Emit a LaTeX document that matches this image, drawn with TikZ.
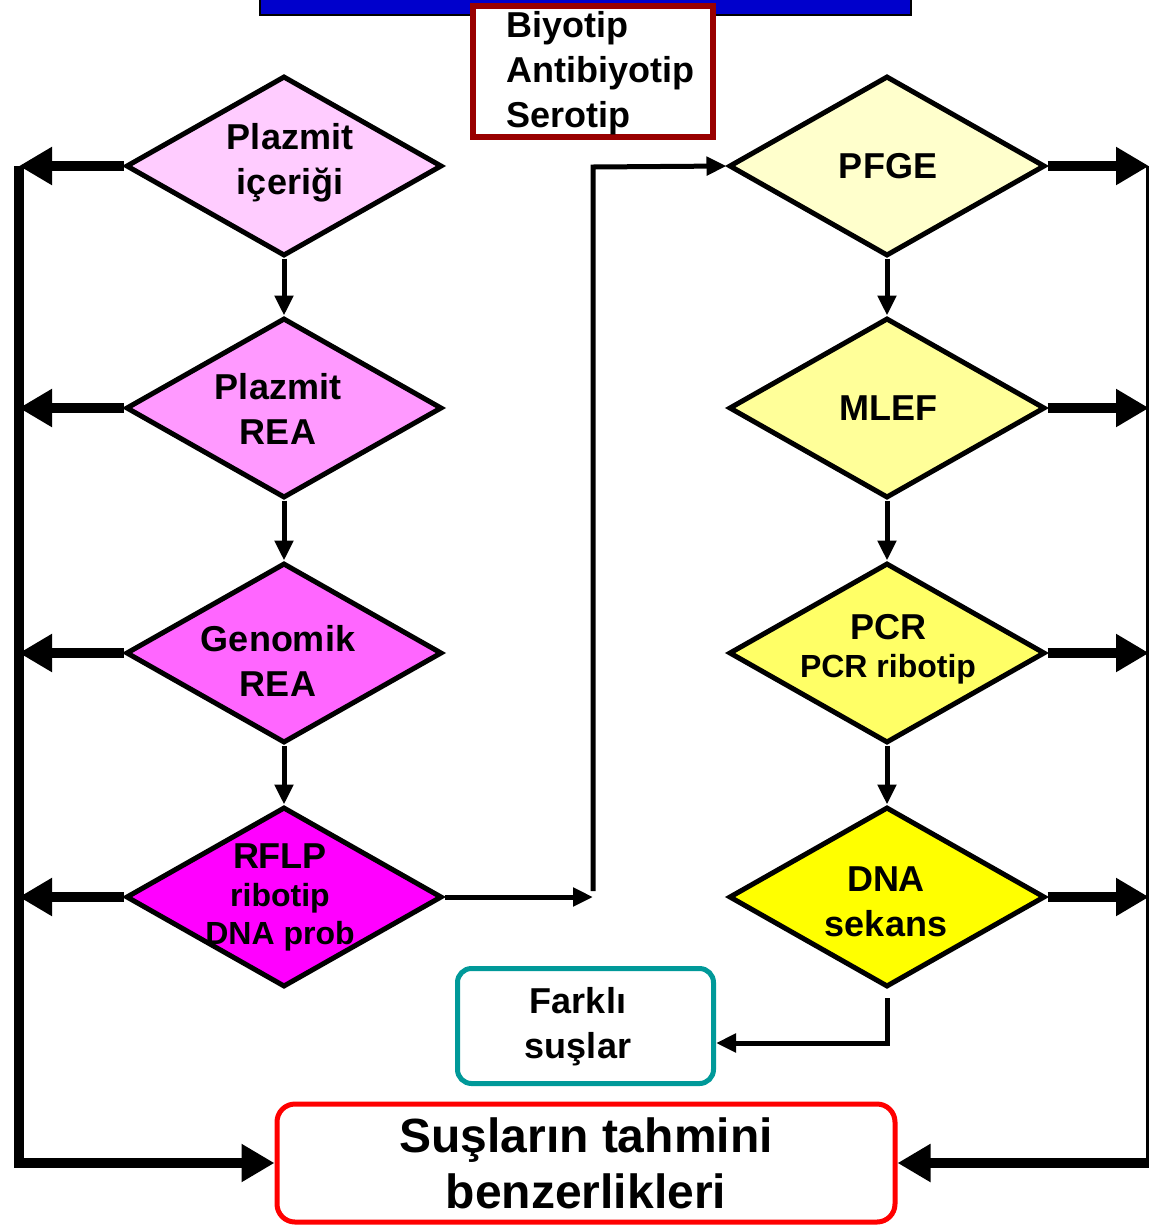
\documentclass[tikz,border=0pt]{standalone}
\usepackage{fontspec}
\setmainfont{Liberation Sans}
\usetikzlibrary{shapes.geometric,arrows.meta}
\definecolor{pa}{HTML}{FFCCFF}
\definecolor{pb}{HTML}{FF99FF}
\definecolor{pc}{HTML}{FF66FF}
\definecolor{pd}{HTML}{FF00FF}
\definecolor{ya}{HTML}{FFFFCC}
\definecolor{yb}{HTML}{FFFF99}
\definecolor{yc}{HTML}{FFFF66}
\definecolor{yd}{HTML}{FFFF00}
\definecolor{brown}{HTML}{990000}
\definecolor{teal}{HTML}{009999}
\definecolor{barblue}{HTML}{0000CC}
\begin{document}
\begin{tikzpicture}[x=1pt,y=-1pt,
  dia/.style={diamond, draw=black, line width=5pt, minimum width=316pt, minimum height=180pt, inner sep=0pt, line join=miter},
  thickarrow/.style={line width=10pt, -{Triangle[length=33pt,width=36pt]}},
  thinarrow/.style={line width=5pt, -{Triangle[length=20pt,width=18pt]}},
  big/.style={font=\fontsize{36}{45}\selectfont\bfseries, align=center, inner sep=0pt},
  small/.style={font=\fontsize{32}{38}\selectfont\bfseries, align=center, inner sep=0pt},
  rbox/.style={rounded corners=14pt, line width=5pt, fill=white, inner sep=0pt}
]
\useasboundingbox (0,0) rectangle (1149,1227);

% top bar
\draw[fill=barblue, line width=1.5pt] (260,-5) rectangle (911,15);
\node[draw=brown, line width=6pt, fill=white, minimum width=240pt, minimum height=131pt, inner sep=0pt] (tb) at (593,71.5) {};
\node[big, align=left, anchor=west] (tbt) at (506,73) {Biyotip\\Antibiyotip\\Serotip};

% left diamonds
\node[dia, fill=pa] (l1) at (284,166) {};
\node[dia, fill=pb] (l2) at (284,408) {};
\node[dia, fill=pc] (l3) at (284,653) {};
\node[dia, fill=pd] (l4) at (284,897) {};
\node[big] (l1t) at (290,163) {Plazmit\\içeriği};
\node[big] (l2t) at (278,409) {Plazmit\\REA};
\node[big] (l3t) at (278,661) {Genomik\\REA};
\node[big] (l4a) at (280,856) {RFLP};
\node[small] (l4b) at (280,898) {ribotip};
\node[small] (l4c) at (280,936) {DNA prob};

% right diamonds
\node[dia, fill=ya] (r1) at (887,166) {};
\node[dia, fill=yb] (r2) at (887,408) {};
\node[dia, fill=yc] (r3) at (887,653) {};
\node[dia, fill=yd] (r4) at (887,897) {};
\node[big] (r1t) at (888,166) {PFGE};
\node[big] (r2t) at (888,408) {MLEF};
\node[big] (r3a) at (888,627) {PCR};
\node[small] (r3b) at (888,669) {PCR ribotip};
\node[big] (r4t) at (886,902) {DNA\\sekans};

% boxes
\node[rbox, draw=teal, minimum width=256pt, minimum height=115pt] (fs) at (585.5,1026) {};
\node[big] (fst) at (578,1027) {Farklı\\suşlar};
\node[rbox, draw=red, rounded corners=18pt, minimum width=618pt, minimum height=118pt, font=\fontsize{48}{56}\selectfont\bfseries, align=center] (sb) at (586,1163) {Suşların tahmini\\benzerlikleri};

% coordinates
\coordinate (L1) at (19,166);
\coordinate (L2) at (19,408);
\coordinate (L3) at (19,653);
\coordinate (L4) at (19,897);
\coordinate (LB) at (19,1163);
\coordinate (R1) at (1149,166);
\coordinate (R2) at (1149,408);
\coordinate (R3) at (1149,653);
\coordinate (R4) at (1149,897);
\coordinate (RT) at (1147.5,166);
\coordinate (RB) at (1147.5,1163);
\coordinate (RBE) at (1149,1163);
\coordinate (M1) at (593,897);
\coordinate (M2) at (593,891);
\coordinate (M3) at (593,167);
\coordinate (F1) at (887,998);
\coordinate (F2) at (887,1043);

% left arrows
\foreach \i in {1,2,3,4} \draw[thickarrow] (l\i.west) -- (L\i);
\draw[line width=10pt, line join=miter, -{Triangle[length=33pt,width=36pt]}] (L1) -- (LB) -- (sb.west);

% right arrows
\foreach \i in {1,2,3,4} \draw[thickarrow] (r\i.east) -- (R\i);
\draw[line width=3pt] (RT) -- (RB);
\draw[thickarrow] (RBE) -- (sb.east);

% down arrows
\draw[thinarrow] (l1.south) -- (l2.north);
\draw[thinarrow] (l2.south) -- (l3.north);
\draw[thinarrow] (l3.south) -- (l4.north);
\draw[thinarrow] (r1.south) -- (r2.north);
\draw[thinarrow] (r2.south) -- (r3.north);
\draw[thinarrow] (r3.south) -- (r4.north);

% connector from left to right column
\draw[thinarrow] (l4.east) -- (M1);
\draw[thinarrow, line join=miter] (M2) -- (M3) -- (r1.west);

% to Farkli suslar
\draw[thinarrow, line join=miter] (F1) -- (F2) -- (fs.east |- F2);
\end{tikzpicture}
\end{document}
